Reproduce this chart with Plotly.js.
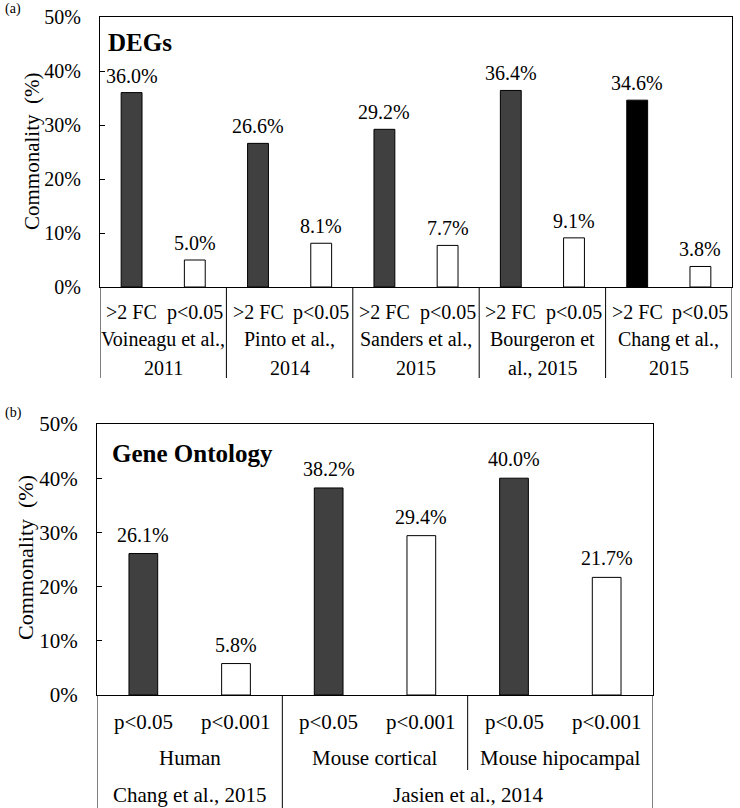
<!DOCTYPE html>
<html>
<head>
<meta charset="utf-8">
<script src="https://cdn.plot.ly/plotly-3.0.1.min.js"></script>
<style>html,body{margin:0;padding:0;background:#fff;}#chart{width:740px;height:808px;}</style>
</head>
<body>
<div id="chart"></div>
<script>
// ---- Panel (a): DEGs ----
const groupsA = ["Voineagu et al.,<br>2011", "Pinto et al.,<br>2014", "Sanders et al.,<br>2015", "Bourgeron et<br>al., 2015", "Chang et al.,<br>2015"];
const subA = [">2 FC", "p<0.05", ">2 FC", "p<0.05", ">2 FC", "p<0.05", ">2 FC", "p<0.05", ">2 FC", "p<0.05"];
const valuesA = [36.0, 5.0, 26.6, 8.1, 29.2, 7.7, 36.4, 9.1, 34.6, 3.8];

// ---- Panel (b): Gene Ontology ----
const subB = ["p<0.05", "p<0.001", "p<0.05", "p<0.001", "p<0.05", "p<0.001"];
const midB = ["Human", "Mouse cortical", "Mouse hipocampal"];
const topB = ["Chang et al., 2015", "Jasien et al., 2014"];
const topBSpan = [1, 2]; // number of mid groups each study covers
const valuesB = [26.1, 5.8, 38.2, 29.4, 40.0, 21.7];

const yTicks = [0, 10, 20, 30, 40, 50];

const FONT = "Liberation Serif";
const W = 740, H = 808;
const py = p => 1 - p / H;
const esc = s => s.replace(/</g, "&lt;").replace(/>/g, "&gt;");

// layout geometry (pixels)
const A = {l: 100, r: 732, t: 17, b: 287, sepBottom: 378};
const B = {l: 97, r: 653, t: 424, b: 695};

const xsA = valuesA.map((_, i) => i);
const colorsA = subA.map((s, i) => s === ">2 FC" ? (groupsA[Math.floor(i / 2)].startsWith("Chang") ? "#000000" : "#404040") : "#ffffff");
const xsB = valuesB.map((_, i) => i);
const colorsB = subB.map(s => s === "p<0.05" ? "#404040" : "#ffffff");

const traces = [
  {type: "bar", x: xsA, y: valuesA, xaxis: "x", yaxis: "y", width: 0.33,
   marker: {color: colorsA, line: {color: "#000", width: 1}}, hoverinfo: "skip", showlegend: false},
  {type: "bar", x: xsB, y: valuesB, xaxis: "x2", yaxis: "y2", width: 0.31,
   marker: {color: colorsB, line: {color: "#000", width: 1}}, hoverinfo: "skip", showlegend: false}
];

const annotations = [];
const shapes = [];
const f = size => ({family: FONT, size: size, color: "#000"});

// value labels
valuesA.forEach((v, i) => annotations.push({xref: "x", yref: "y", x: i, y: v, text: v.toFixed(1) + "%",
  showarrow: false, yanchor: "bottom", yshift: 4, font: f(20)}));
valuesB.forEach((v, i) => annotations.push({xref: "x2", yref: "y2", x: i, y: v, text: v.toFixed(1) + "%",
  showarrow: false, yanchor: "bottom", yshift: 6, font: f(20)}));

// panel a sub labels & group labels
subA.forEach((s, i) => annotations.push({xref: "x", yref: "paper", x: i, y: py(312), text: esc(s),
  showarrow: false, yanchor: "middle", font: f(20)}));
groupsA.forEach((g, gi) => {
  const lines = g.split("<br>");
  const ys = [339, 368];
  lines.forEach((ln, li) => annotations.push({xref: "x", yref: "paper", x: gi * 2 + 0.5, y: py(ys[li]), text: ln,
    showarrow: false, yanchor: "middle", font: f(20)}));
});
for (let k = 0; k <= groupsA.length; k++) {
  shapes.push({type: "line", xref: "x", yref: "paper", x0: k * 2 - 0.5, x1: k * 2 - 0.5, y0: py(A.b), y1: py(A.sepBottom),
    line: {color: "#000", width: 1}});
}

// panel b labels
subB.forEach((s, i) => annotations.push({xref: "x2", yref: "paper", x: i, y: py(722), text: esc(s),
  showarrow: false, yanchor: "middle", font: f(21)}));
midB.forEach((m, mi) => annotations.push({xref: "x2", yref: "paper", x: mi * 2 + 0.5, y: py(758), text: m,
  showarrow: false, yanchor: "middle", font: f(21)}));
let start = 0;
topB.forEach((t, ti) => {
  const n = topBSpan[ti] * 2;
  annotations.push({xref: "x2", yref: "paper", x: start + (n - 1) / 2, y: py(795), text: t,
    showarrow: false, yanchor: "middle", font: f(21)});
  shapes.push({type: "line", xref: "x2", yref: "paper", x0: start - 0.5, x1: start - 0.5, y0: py(B.b), y1: 0,
    line: {color: "#000", width: 1}});
  for (let k = 1; k < topBSpan[ti]; k++) {
    const xb = start + k * 2 - 0.5;
    shapes.push({type: "line", xref: "x2", yref: "paper", x0: xb, x1: xb, y0: py(B.b), y1: py(770),
      line: {color: "#000", width: 1}});
  }
  start += n;
});
shapes.push({type: "line", xref: "x2", yref: "paper", x0: start - 0.5, x1: start - 0.5, y0: py(B.b), y1: 0,
  line: {color: "#000", width: 1}});

// panel titles and letters
annotations.push({xref: "paper", yref: "paper", x: 106 / W, y: py(42), text: "<b>DEGs</b>", xanchor: "left", yanchor: "middle",
  showarrow: false, font: f(25)});
annotations.push({xref: "paper", yref: "paper", x: 110 / W, y: py(453), text: "<b>Gene Ontology</b>", xanchor: "left", yanchor: "middle",
  showarrow: false, font: f(25)});
annotations.push({xref: "paper", yref: "paper", x: 3 / W, y: py(9), text: "(a)", xanchor: "left", yanchor: "middle",
  showarrow: false, font: f(14)});
annotations.push({xref: "paper", yref: "paper", x: 3 / W, y: py(413), text: "(b)", xanchor: "left", yanchor: "middle",
  showarrow: false, font: f(14)});
// y-axis titles
annotations.push({xref: "paper", yref: "paper", x: 32 / W, y: py(152), text: "Commonality  (%)", textangle: -90,
  showarrow: false, xanchor: "center", yanchor: "middle", font: f(21)});
annotations.push({xref: "paper", yref: "paper", x: 25 / W, y: py(558), text: "Commonality  (%)", textangle: -90,
  showarrow: false, xanchor: "center", yanchor: "middle", font: f(22)});

const xBase = {showticklabels: false, ticks: "", showgrid: false, zeroline: false, showline: true, mirror: true,
  linecolor: "#000", linewidth: 1, fixedrange: true};
const yBase = {range: [0, 50], tickvals: yTicks, ticktext: yTicks.map(t => t + "%"), ticks: "inside", ticklen: 5,
  tickcolor: "#000", showgrid: false, zeroline: false, showline: true, mirror: true, linecolor: "#000", linewidth: 1,
  ticklabelstandoff: 14, fixedrange: true};

const layout = {
  width: W, height: H, margin: {l: 0, r: 0, t: 0, b: 0},
  paper_bgcolor: "#fff", plot_bgcolor: "#fff", showlegend: false,
  font: {family: FONT, color: "#000"},
  xaxis: Object.assign({}, xBase, {domain: [A.l / W, A.r / W], range: [-0.5, valuesA.length - 0.5], anchor: "y"}),
  yaxis: Object.assign({}, yBase, {domain: [py(A.b), py(A.t)], anchor: "x", tickfont: f(20)}),
  xaxis2: Object.assign({}, xBase, {domain: [B.l / W, B.r / W], range: [-0.5, valuesB.length - 0.5], anchor: "y2"}),
  yaxis2: Object.assign({}, yBase, {domain: [py(B.b), py(B.t)], anchor: "x2", tickfont: f(21)}),
  annotations: annotations,
  shapes: shapes
};

Plotly.newPlot("chart", traces, layout, {staticPlot: true, displayModeBar: false});
</script>
</body>
</html>
